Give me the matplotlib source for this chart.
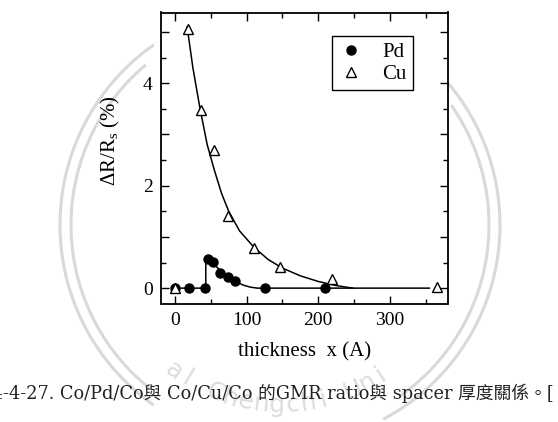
import numpy as np
import matplotlib
matplotlib.use("Agg")
import matplotlib.pyplot as plt
from matplotlib.ticker import MultipleLocator, FuncFormatter

# ---- data ----
pd_x = [0, 20, 42, 46.5, 52.5, 63, 73.5, 84, 126, 210]
pd_y = [0.0, 0.0, 0.01, 0.57, 0.51, 0.29, 0.22, 0.14, 0.01, 0.0]

cu_x = [0, 17.7, 35.8, 54.4, 73.5, 110, 146, 219, 366]
cu_y = [0.0, 5.06, 3.48, 2.70, 1.40, 0.78, 0.41, 0.17, 0.03]

# fitted guide curves
cu_fit_x = [17, 25, 35, 45, 55, 65, 75, 90, 110, 130, 150, 175, 200, 225, 248]
cu_fit_y = [5.1, 4.3, 3.5, 2.8, 2.3, 1.85, 1.5, 1.12, 0.80, 0.56, 0.39, 0.24, 0.13, 0.05, 0.0]
pd_fit_x = [0, 43, 43, 48, 55, 65, 75, 85, 95, 105, 115, 355]
pd_fit_y = [0, 0, 0.58, 0.55, 0.45, 0.33, 0.22, 0.13, 0.06, 0.02, 0.0, 0.0]

x_label = "thickness  x (A)"
y_label = r"$\Delta$R/R$_{\rm s}$ (%)"
caption = "圖4-4-27. Co/Pd/Co與 Co/Cu/Co 的GMR ratio與 spacer 厚度關係。["
watermark = "al Chengchi Uni"

plt.rcParams['mathtext.fontset'] = 'custom'
plt.rcParams['mathtext.rm'] = 'Liberation Serif'
plt.rcParams['mathtext.it'] = 'Liberation Serif:italic'

W, H = 558, 422
fig = plt.figure(figsize=(W / 100, H / 100), dpi=100)

# watermark layer (pixel coords, y down)
bg = fig.add_axes([0, 0, 1, 1], zorder=0)
bg.set_xlim(0, W)
bg.set_ylim(H, 0)
bg.axis('off')
cx, cy = 280, 225
wm_col = '#d9d9d9'
for r, segs in [(220, [(125, 235), (-62, 40)]), (209, [(130, 232), (-55, 35)])]:
    for a0, a1 in segs:
        t = np.radians(np.linspace(a0, a1, 200))
        bg.plot(cx + r * np.cos(t), cy - r * np.sin(t), color=wm_col, lw=2.2,
                solid_capstyle='butt')
# curved watermark text along bottom of circle
rt = 180
n = len(watermark)
t_start, t_end = 126, 56
for i, ch in enumerate(watermark):
    t = t_start + (t_end - t_start) * i / (n - 1)
    tr = np.radians(t)
    px, py = cx + rt * np.cos(tr), cy + rt * np.sin(tr)
    bg.text(px, py, ch, rotation=90 - t, ha='center', va='center',
            fontsize=18, color='#dcdcdc', family='DejaVu Sans',
            rotation_mode='anchor')

ax = fig.add_axes([161 / W, 1 - 303.5 / H, (448 - 161) / W, (303.5 - 12.5) / H], zorder=2)
ax.patch.set_alpha(0)

ax.plot(pd_fit_x, pd_fit_y, color='black', lw=1.1, zorder=2)
ax.plot(cu_fit_x, cu_fit_y, color='black', lw=1.1, zorder=2)
ax.plot(pd_x, pd_y, 'o', color='black', ms=6.5, zorder=3, label='Pd')
ax.plot(cu_x, cu_y, '^', mfc='white', mec='black', mew=1.0, ms=7.5, zorder=4, label='Cu')

ax.set_xlim(-19.5, 381)
ax.set_ylim(-0.30, 5.38)

ax.xaxis.set_major_locator(MultipleLocator(100))
ax.xaxis.set_minor_locator(MultipleLocator(50))
ax.yaxis.set_major_locator(MultipleLocator(1))
ax.yaxis.set_minor_locator(MultipleLocator(0.5))
ax.yaxis.set_major_formatter(FuncFormatter(lambda v, p: f"{int(round(v))}" if int(round(v)) % 2 == 0 else ""))
ax.tick_params(which='both', direction='in', top=True, right=True, width=1.0)
ax.tick_params(which='major', length=6, labelsize=14, pad=6)
ax.tick_params(which='minor', length=3.5)
for lab in ax.get_xticklabels() + ax.get_yticklabels():
    lab.set_family('Liberation Serif')
for s in ax.spines.values():
    s.set_linewidth(1.3)

ax.set_xlabel(x_label, family='Liberation Serif', fontsize=15, labelpad=10)
ax.set_ylabel(y_label, family='Liberation Serif', fontsize=15, labelpad=6)
ax.yaxis.set_label_coords(-0.135, 0.56)

leg = ax.legend(loc='upper left', bbox_to_anchor=(0.596, 0.919), borderaxespad=0,
                frameon=True, fancybox=False, edgecolor='black', framealpha=1,
                prop={'family': 'Liberation Serif', 'size': 15}, handlelength=1.2,
                handletextpad=0.9, labelspacing=0.12, borderpad=0.3)
leg.get_frame().set_linewidth(1.0)

fig.text(-26 / W, 1 - 393 / H, caption, ha='left', va='center', fontsize=12.75,
         family=['DejaVu Serif', 'Noto Sans CJK TC'], color='#222222', zorder=3)

fig.savefig('out.png', dpi=100)
